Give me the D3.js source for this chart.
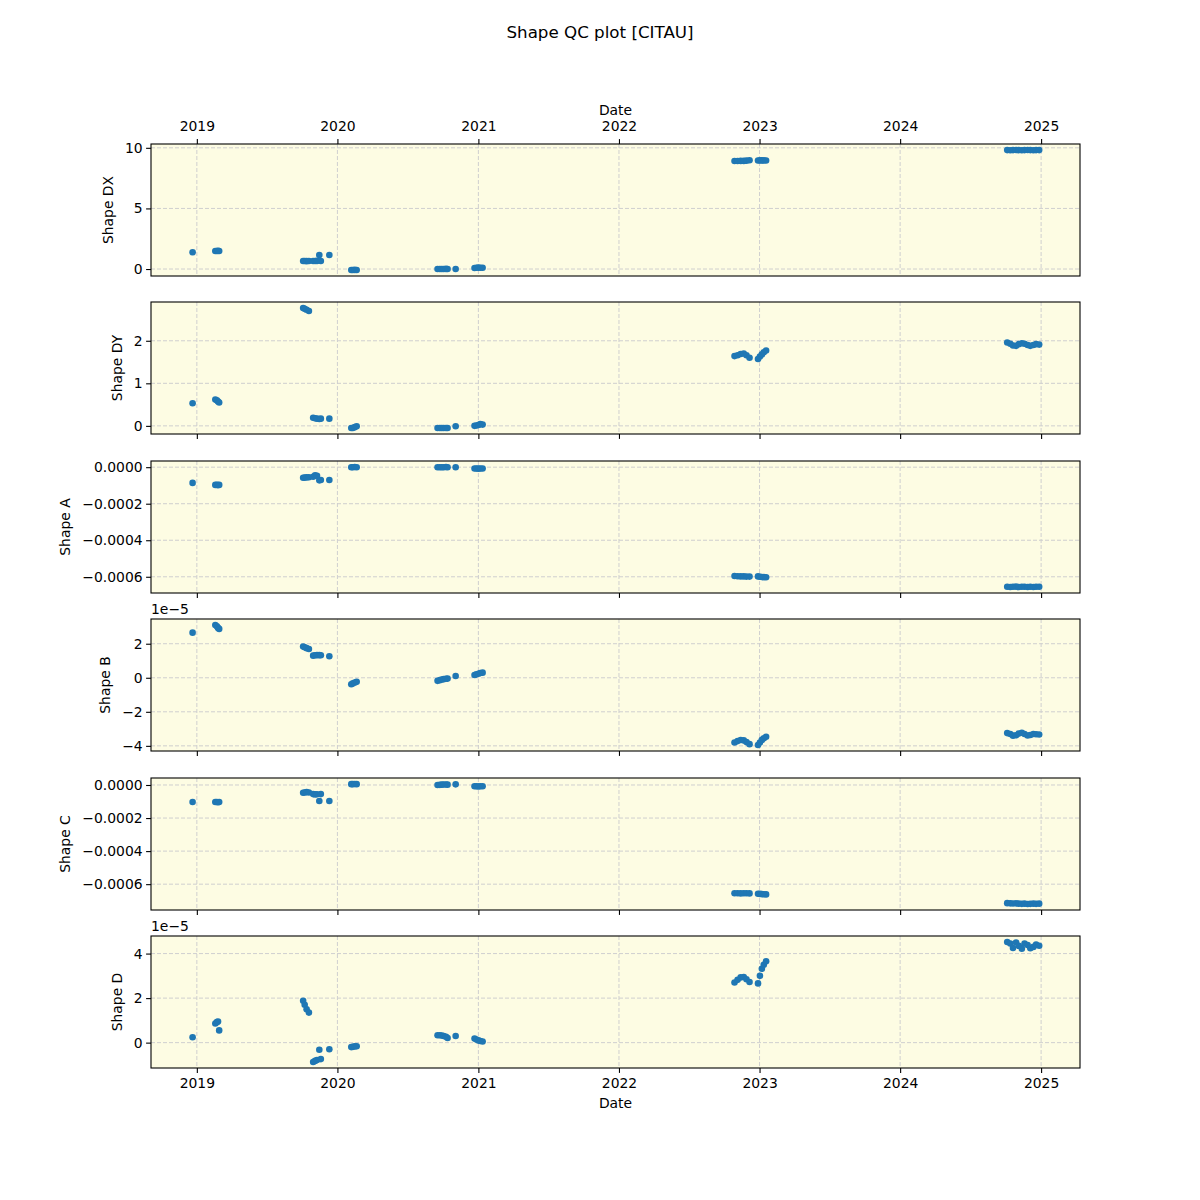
<!DOCTYPE html>
<html>
<head>
<meta charset="utf-8">
<script src="https://cdn.jsdelivr.net/npm/d3@7"></script>
<style>
  html, body { margin: 0; padding: 0; background: #ffffff; }
  svg { display: block; font-family: "DejaVu Sans", sans-serif; }
</style>
</head>
<body>
<svg id="chart" width="1200" height="1200"></svg>
<script>
// ---------------- data ----------------
const dates = [
  "2018-12-21",
  "2019-02-18","2019-02-22","2019-02-25","2019-02-28",
  "2019-10-04","2019-10-08","2019-10-13","2019-10-19",
  "2019-10-30","2019-11-04","2019-11-09","2019-11-15","2019-11-19",
  "2019-12-11",
  "2020-02-06","2020-02-10","2020-02-15","2020-02-20",
  "2020-09-17","2020-09-23","2020-09-28","2020-10-03","2020-10-09","2020-10-13",
  "2020-11-03",
  "2020-12-22","2020-12-27","2021-01-01","2021-01-06","2021-01-12",
  "2022-10-28","2022-11-05","2022-11-13","2022-11-21","2022-11-28","2022-12-06",
  "2022-12-28","2023-01-02","2023-01-07","2023-01-12","2023-01-18",
  "2024-10-05","2024-10-13","2024-10-20","2024-10-28","2024-11-04","2024-11-12",
  "2024-11-19","2024-11-27","2024-12-04","2024-12-12","2024-12-19","2024-12-27"
];

const shapeDX = [
  1.38,
  1.49,1.49,1.50,1.49,
  0.66,0.66,0.65,0.66,
  0.66,0.66,0.67,1.16,0.66,
  1.16,
  -0.08,-0.08,-0.07,-0.08,
  0.00,0.00,0.00,0.00,0.01,0.00,
  0.00,
  0.08,0.10,0.12,0.11,0.10,
  8.91,8.91,8.92,8.92,8.94,8.97,
  8.95,8.96,8.96,8.96,8.95,
  9.81,9.80,9.81,9.82,9.81,9.80,9.81,9.82,9.81,9.80,9.81,9.81
];

const shapeDY = [
  0.53,
  0.62,0.60,0.57,0.55,
  2.77,2.75,2.73,2.70,
  0.19,0.18,0.17,0.16,0.17,
  0.17,
  -0.05,-0.05,-0.03,-0.01,
  -0.05,-0.05,-0.05,-0.05,-0.05,-0.05,
  -0.01,
  0.00,0.01,0.02,0.04,0.03,
  1.64,1.66,1.69,1.70,1.66,1.60,
  1.57,1.63,1.68,1.73,1.77,
  1.96,1.93,1.89,1.88,1.92,1.94,1.93,1.90,1.88,1.90,1.92,1.91
];

const shapeA = [
  -0.000086,
  -0.000097,-0.000097,-0.000098,-0.000097,
  -0.000058,-0.000057,-0.000056,-0.000055,
  -0.000052,-0.000045,-0.000047,-0.000072,-0.000070,
  -0.000070,
  0.000000,0.000000,0.000001,0.000000,
  0.000000,0.000000,0.000000,0.000000,0.000001,0.000000,
  0.000000,
  -0.000007,-0.000007,-0.000008,-0.000007,-0.000007,
  -0.000596,-0.000597,-0.000598,-0.000598,-0.000599,-0.000599,
  -0.000598,-0.000600,-0.000601,-0.000602,-0.000603,
  -0.000655,-0.000656,-0.000655,-0.000654,-0.000656,-0.000655,
  -0.000655,-0.000656,-0.000655,-0.000656,-0.000655,-0.000655
];

const shapeB = [
  2.65e-5,
  3.10e-5,3.02e-5,2.93e-5,2.87e-5,
  1.84e-5,1.79e-5,1.74e-5,1.69e-5,
  1.30e-5,1.32e-5,1.33e-5,1.33e-5,1.32e-5,
  1.26e-5,
  -0.38e-5,-0.33e-5,-0.28e-5,-0.24e-5,
  -0.18e-5,-0.14e-5,-0.10e-5,-0.08e-5,-0.06e-5,-0.05e-5,
  0.10e-5,
  0.16e-5,0.20e-5,0.24e-5,0.28e-5,0.30e-5,
  -3.80e-5,-3.72e-5,-3.66e-5,-3.68e-5,-3.78e-5,-3.90e-5,
  -3.95e-5,-3.80e-5,-3.65e-5,-3.55e-5,-3.47e-5,
  -3.25e-5,-3.30e-5,-3.40e-5,-3.38e-5,-3.28e-5,-3.23e-5,
  -3.30e-5,-3.39e-5,-3.36e-5,-3.30e-5,-3.32e-5,-3.33e-5
];

const shapeC = [
  -0.000103,
  -0.000103,-0.000103,-0.000104,-0.000103,
  -0.000047,-0.000045,-0.000043,-0.000045,
  -0.000055,-0.000057,-0.000056,-0.000097,-0.000055,
  -0.000097,
  0.000005,0.000005,0.000006,0.000005,
  0.000000,0.000001,0.000002,0.000003,0.000003,0.000002,
  0.000004,
  -0.000008,-0.000008,-0.000009,-0.000008,-0.000008,
  -0.000655,-0.000655,-0.000656,-0.000655,-0.000655,-0.000656,
  -0.000658,-0.000659,-0.000660,-0.000661,-0.000662,
  -0.000715,-0.000716,-0.000717,-0.000716,-0.000718,-0.000719,
  -0.000718,-0.000720,-0.000719,-0.000718,-0.000719,-0.000718
];

const shapeD = [
  0.24e-5,
  0.86e-5,0.92e-5,0.95e-5,0.55e-5,
  1.88e-5,1.70e-5,1.50e-5,1.35e-5,
  -0.87e-5,-0.82e-5,-0.78e-5,-0.32e-5,-0.74e-5,
  -0.30e-5,
  -0.20e-5,-0.19e-5,-0.17e-5,-0.16e-5,
  0.33e-5,0.33e-5,0.32e-5,0.30e-5,0.26e-5,0.21e-5,
  0.30e-5,
  0.18e-5,0.14e-5,0.10e-5,0.07e-5,0.05e-5,
  2.70e-5,2.82e-5,2.93e-5,2.95e-5,2.85e-5,2.72e-5,
  2.66e-5,3.00e-5,3.32e-5,3.50e-5,3.65e-5,
  4.52e-5,4.45e-5,4.25e-5,4.50e-5,4.35e-5,4.22e-5,
  4.45e-5,4.38e-5,4.24e-5,4.30e-5,4.40e-5,4.35e-5
];

const xTickYears = ["2019","2020","2021","2022","2023","2024","2025"];
const panelLabels = ["Shape DX","Shape DY","Shape A","Shape B","Shape C","Shape D"];
const ticksDX = [0, 5, 10];
const ticksDY = [0, 1, 2];
const ticksA  = [0, -0.0002, -0.0004, -0.0006];
const ticksB  = [-4e-5, -2e-5, 0, 2e-5];
const ticksC  = [0, -0.0002, -0.0004, -0.0006];
const ticksD  = [0, 2e-5, 4e-5];
const titleText = "Shape QC plot [CITAU]";
const xLabelText = "Date";
const offsetText = "1e\u22125";

// ---------------- layout ----------------
const svg = d3.select("#chart");
const parse = d3.utcParse("%Y-%m-%d");
const dateObjs = dates.map(parse);

const left = 151, right = 1080;
const panelTops = [144, 302, 461, 619, 778, 936];
const panelH = 132;
const bg = "#fdfce3";
const blue = "#1f77b4";
const gridColor = "#cfcfcf";
const tickFont = 13.9;

const x = d3.scaleUtc()
  .domain([parse("2018-09-04"), parse("2025-04-12")])
  .range([left, right]);
const xTicks = xTickYears.map(y => parse(y + "-01-01"));

svg.append("text")
  .attr("x", 600).attr("y", 38)
  .attr("text-anchor", "middle")
  .attr("font-size", 16.7)
  .attr("fill", "#000")
  .text(titleText);

const fmt4 = d3.format(".4f");
const fmtInt = d3.format("d");
const panels = [
  { values: shapeDX, ticks: ticksDX, fmt: v => fmtInt(v), offset: false },
  { values: shapeDY, ticks: ticksDY, fmt: v => fmtInt(v), offset: false },
  { values: shapeA,  ticks: ticksA,  fmt: v => fmt4(v), offset: false },
  { values: shapeB,  ticks: ticksB,  fmt: v => fmtInt(Math.round(v / 1e-5)), offset: true },
  { values: shapeC,  ticks: ticksC,  fmt: v => fmt4(v), offset: false },
  { values: shapeD,  ticks: ticksD,  fmt: v => fmtInt(Math.round(v / 1e-5)), offset: true }
];

panels.forEach((p, i) => {
  const top = panelTops[i];
  const bottom = top + panelH;
  const [mn, mx] = d3.extent(p.values);
  const pad = (mx - mn) * 0.05;
  const y = d3.scaleLinear().domain([mn - pad, mx + pad]).range([bottom, top]);

  const g = svg.append("g");

  g.append("rect")
    .attr("x", left).attr("y", top)
    .attr("width", right - left).attr("height", panelH)
    .attr("fill", bg);

  // grid
  const grid = g.append("g");
  grid.selectAll("line.gx").data(xTicks).join("line")
    .attr("x1", d => x(d)).attr("x2", d => x(d))
    .attr("y1", top).attr("y2", bottom)
    .attr("stroke", gridColor).attr("stroke-width", 1)
    .attr("stroke-dasharray", "4,2");
  grid.selectAll("line.gy").data(p.ticks).join("line")
    .attr("x1", left).attr("x2", right)
    .attr("y1", d => y(d)).attr("y2", d => y(d))
    .attr("stroke", gridColor).attr("stroke-width", 1)
    .attr("stroke-dasharray", "4,2");

  // points
  g.append("g").selectAll("circle").data(p.values).join("circle")
    .attr("cx", (d, k) => x(dateObjs[k]))
    .attr("cy", d => y(d))
    .attr("r", 3.3)
    .attr("fill", blue);

  // y axis
  const yAxis = d3.axisLeft(y).tickValues(p.ticks).tickFormat(p.fmt)
    .tickSize(4.9).tickPadding(3.5);
  const ya = g.append("g").attr("transform", `translate(${left},0)`).call(yAxis);
  ya.select(".domain").remove();
  ya.selectAll("text").attr("font-size", tickFont).attr("font-family", "DejaVu Sans").attr("fill", "#000");
  ya.selectAll("line").attr("stroke", "#000").attr("stroke-width", 1.1);

  // x axis
  if (i === 0) {
    const xa = g.append("g").attr("transform", `translate(0,${top})`)
      .call(d3.axisTop(x).tickValues(xTicks).tickFormat(d3.utcFormat("%Y")).tickSize(4.9).tickPadding(3.5));
    xa.select(".domain").remove();
    xa.selectAll("text").attr("font-size", tickFont).attr("font-family", "DejaVu Sans").attr("fill", "#000")
      .attr("dy", "-0.35em");
    xa.selectAll("line").attr("stroke", "#000").attr("stroke-width", 1.1);
    svg.append("text").attr("x", (left + right) / 2).attr("y", 115)
      .attr("text-anchor", "middle").attr("font-size", tickFont).text(xLabelText);
  } else {
    const xa = g.append("g").attr("transform", `translate(0,${bottom})`)
      .call(d3.axisBottom(x).tickValues(xTicks)
        .tickFormat(i === 5 ? d3.utcFormat("%Y") : () => "")
        .tickSize(4.9).tickPadding(5));
    xa.select(".domain").remove();
    xa.selectAll("text").attr("font-size", tickFont).attr("font-family", "DejaVu Sans").attr("fill", "#000");
    xa.selectAll("line").attr("stroke", "#000").attr("stroke-width", 1.1);
    if (i === 5) {
      svg.append("text").attr("x", (left + right) / 2).attr("y", 1108)
        .attr("text-anchor", "middle").attr("font-size", tickFont).text(xLabelText);
    }
  }

  // frame
  g.append("rect")
    .attr("x", left).attr("y", top)
    .attr("width", right - left).attr("height", panelH)
    .attr("fill", "none").attr("stroke", "#000").attr("stroke-width", 1.1);

  // offset text
  if (p.offset) {
    svg.append("text").attr("x", left).attr("y", top - 5)
      .attr("font-size", tickFont).attr("fill", "#000").text(offsetText);
  }

  // y label
  const bb = ya.node().getBBox();
  const lx = left + bb.x - 17;
  svg.append("text")
    .attr("transform", `translate(${lx},${top + panelH / 2}) rotate(-90)`)
    .attr("text-anchor", "middle")
    .attr("dominant-baseline", "central")
    .attr("font-size", tickFont)
    .attr("fill", "#000")
    .text(panelLabels[i]);
});
</script>
</body>
</html>
